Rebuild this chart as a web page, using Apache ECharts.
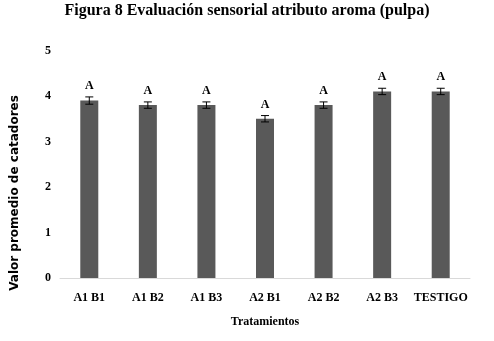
<!DOCTYPE html>
<html><head><meta charset="utf-8">
<script src="https://cdn.jsdelivr.net/npm/echarts@6/dist/echarts.min.js"></script>
<style>html,body{margin:0;padding:0;background:#fff}#c{width:494px;height:341px}</style>
</head><body><div id="c"></div>
<script>
const categories = ['A1 B1','A1 B2','A1 B3','A2 B1','A2 B2','A2 B3','TESTIGO'];
const values = [3.9, 3.8, 3.8, 3.5, 3.8, 4.1, 4.1];
const errors = [0.08, 0.07, 0.07, 0.07, 0.07, 0.07, 0.07];
const letters = ['A','A','A','A','A','A','A'];
const yTicks = [0, 1, 2, 3, 4, 5];

const font = '"Liberation Serif", "Times New Roman", serif';
const chart = echarts.init(document.getElementById('c'));
const errData = categories.map((c, i) => [i, values[i], errors[i], letters[i]]);
chart.setOption({
  animation: false,
  title: {
    text: 'Figura 8 Evaluación sensorial atributo aroma (pulpa)',
    left: 'center', top: -2,
    textStyle: {fontFamily: font, fontWeight: 'bold', fontSize: 16, color: '#000'}
  },
  graphic: [{
    type: 'text', x: 15, y: 193, rotation: Math.PI / 2,
    style: {text: 'Valor promedio de catadores', font: 'bold 12px "DejaVu Sans", sans-serif',
      fill: '#000', textAlign: 'center', textVerticalAlign: 'middle'}
  }],
  grid: {left: 60, right: 24, top: 50.5, bottom: 63},
  xAxis: {
    type: 'category', data: categories,
    axisLine: {lineStyle: {color: '#d9d9d9', width: 1}},
    axisTick: {show: false},
    axisLabel: {interval: 0, fontFamily: font, fontWeight: 'bold', fontSize: 12, color: '#000', margin: 14},
    name: 'Tratamientos', nameLocation: 'middle', nameGap: 38,
    nameTextStyle: {fontFamily: font, fontWeight: 'bold', fontSize: 12, color: '#000'}
  },
  yAxis: {
    type: 'value', min: 0, max: 5, interval: 1,
    axisLine: {show: false}, axisTick: {show: false}, splitLine: {show: false},
    axisLabel: {fontFamily: font, fontWeight: 'bold', fontSize: 12, color: '#000', margin: 9,
      formatter: v => yTicks.includes(v) ? String(v) : ''}
  },
  series: [{
    type: 'bar', data: values, barWidth: 18,
    itemStyle: {color: '#595959'}
  }, {
    type: 'custom', data: errData, z: 5,
    renderItem: (params, api) => {
      const x = api.value(0), v = api.value(1), e = api.value(2);
      const top = api.coord([x, v + e]);
      const bot = api.coord([x, v - e]);
      const hw = 4;
      return {type: 'group', children: [
        {type: 'line', shape: {x1: top[0], y1: top[1], x2: bot[0], y2: bot[1]}, style: {stroke: '#000', lineWidth: 1}},
        {type: 'line', shape: {x1: top[0]-hw, y1: top[1], x2: top[0]+hw, y2: top[1]}, style: {stroke: '#000', lineWidth: 1}},
        {type: 'line', shape: {x1: bot[0]-hw, y1: bot[1], x2: bot[0]+hw, y2: bot[1]}, style: {stroke: '#000', lineWidth: 1}},
        {type: 'text', x: top[0], y: top[1] - 5, style: {text: api.value(3), fill: '#000', font: 'bold 12px ' + font, textAlign: 'center', textVerticalAlign: 'bottom'}}
      ]};
    }
  }]
});
</script></body></html>
